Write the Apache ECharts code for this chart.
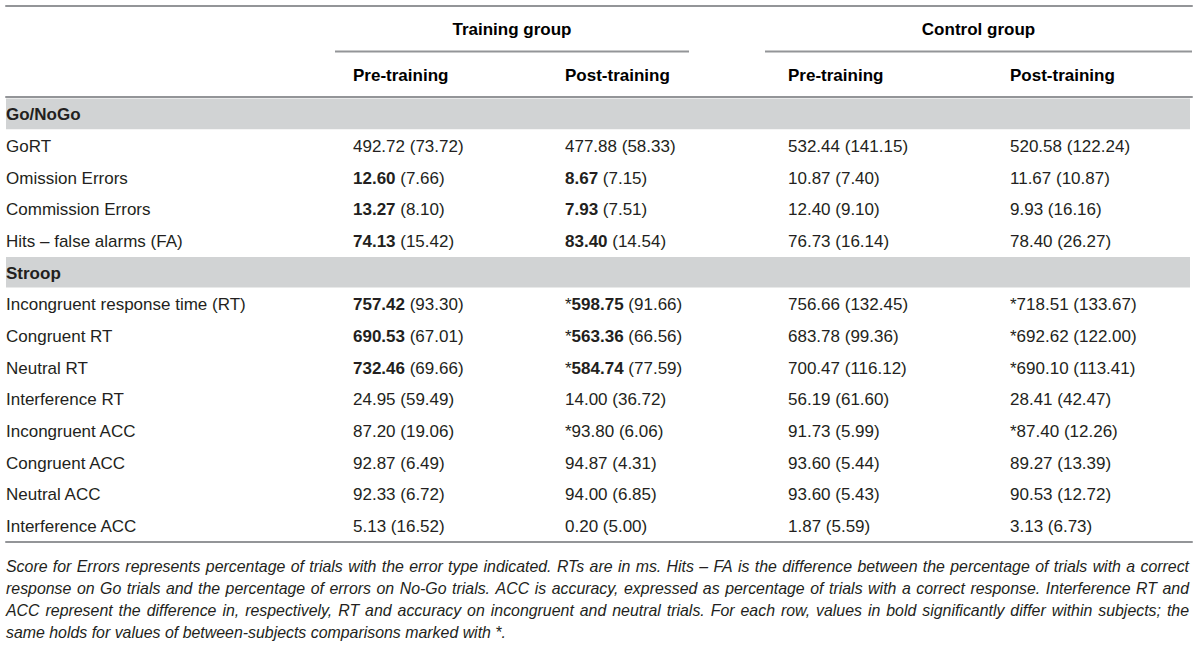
<!DOCTYPE html>
<html>
<head>
    <meta charset="utf-8">
    <title>Go/NoGo and Stroop results</title>
    <script src="https://cdn.jsdelivr.net/npm/echarts@6/dist/echarts.min.js"></script>
    <style type="text/css">
        html, body { margin: 0; padding: 0; background: #fff; }
        #main { width: 1200px; height: 651px; }
    </style>
</head>
<body>
<div id="main"></div>
<script>
    // ---- table data ----
    var sections = ['Go/NoGo', 'Stroop'];
    var sectionStart = [0, 4];          // section header goes before this row
    var rowLabels = ['GoRT', 'Omission Errors', 'Commission Errors', 'Hits \u2013 false alarms (FA)',
        'Incongruent response time (RT)', 'Congruent RT', 'Neutral RT', 'Interference RT',
        'Incongruent ACC', 'Congruent ACC', 'Neutral ACC', 'Interference ACC'];

    var groups = ['Training group', 'Control group'];
    var phases = ['Pre-training', 'Post-training', 'Pre-training', 'Post-training'];

    var trainPreMean  = [492.72, 12.60, 13.27, 74.13, 757.42, 690.53, 732.46, 24.95, 87.20, 92.87, 92.33, 5.13];
    var trainPreSD    = [73.72, 7.66, 8.10, 15.42, 93.30, 67.01, 69.66, 59.49, 19.06, 6.49, 6.72, 16.52];
    var trainPostMean = [477.88, 8.67, 7.93, 83.40, 598.75, 563.36, 584.74, 14.00, 93.80, 94.87, 94.00, 0.20];
    var trainPostSD   = [58.33, 7.15, 7.51, 14.54, 91.66, 66.56, 77.59, 36.72, 6.06, 4.31, 6.85, 5.00];
    var ctrlPreMean   = [532.44, 10.87, 12.40, 76.73, 756.66, 683.78, 700.47, 56.19, 91.73, 93.60, 93.60, 1.87];
    var ctrlPreSD     = [141.15, 7.40, 9.10, 16.14, 132.45, 99.36, 116.12, 61.60, 5.99, 5.44, 5.43, 5.59];
    var ctrlPostMean  = [520.58, 11.67, 9.93, 78.40, 718.51, 692.62, 690.10, 28.41, 87.40, 89.27, 90.53, 3.13];
    var ctrlPostSD    = [122.24, 10.87, 16.16, 26.27, 133.67, 122.00, 113.41, 42.47, 12.26, 13.39, 12.72, 6.73];

    // rows with bold means (within-subject difference), per column
    var boldRows = [[1, 2, 3, 4, 5, 6], [1, 2, 3, 4, 5, 6], [], []];
    // rows marked * (between-subject difference), per column
    var starRows = [[], [4, 5, 6, 8], [], [4, 5, 6, 8]];

    var footnote = [
        'Score for Errors represents percentage of trials with the error type indicated. RTs are in ms. Hits \u2013 FA is the difference between the percentage of trials with a correct',
        'response on Go trials and the percentage of errors on No-Go trials. ACC is accuracy, expressed as percentage of trials with a correct response. Interference RT and',
        'ACC represent the difference in, respectively, RT and accuracy on incongruent and neutral trials. For each row, values in bold significantly differ within subjects; the',
        'same holds for values of between-subjects comparisons marked with *.'
    ];

    // ---- layout ----
    var X0 = 6, X1 = 1192;
    var LABEL_X = 6;
    var NOTE_RIGHT = 1189;
    var colLeft = [353, 565, 788, 1010];
    var groupSpan = [[335, 689], [765, 1192]];
    var FONT = '"Liberation Sans", Arial, sans-serif';
    var NOTE_SIZE = 15.9;
    var TXT = '#231f20';
    var RULE = '#939598';
    var BAND = '#d1d3d4';

    var means = [trainPreMean, trainPostMean, ctrlPreMean, ctrlPostMean];
    var sds = [trainPreSD, trainPostSD, ctrlPreSD, ctrlPostSD];

    // body rows = section headers + data rows
    var bodyKeys = [];
    var bandIdx = [];
    var cells = [];
    rowLabels.forEach(function (lab, r) {
        var s = sectionStart.indexOf(r);
        if (s >= 0) {
            bandIdx.push(bodyKeys.length);
            cells.push({value: [-1, bodyKeys.length], text: '{h|' + sections[s] + '}'});
            bodyKeys.push(sections[s]);
        }
        var y = bodyKeys.length;
        bodyKeys.push(lab);
        cells.push({value: [-1, y], text: lab});
        for (var c = 0; c < 4; c++) {
            var m = means[c][r].toFixed(2);
            if (boldRows[c].indexOf(r) >= 0) m = '{b|' + m + '}';
            var t = (starRows[c].indexOf(r) >= 0 ? '*' : '') + m + ' (' + sds[c][r].toFixed(2) + ')';
            cells.push({value: [c, y], text: t});
        }
    });

    var rich = {
        b: {fontFamily: FONT, fontSize: 17, fontWeight: 'bold', color: TXT},
        h: {fontFamily: FONT, fontSize: 17, fontWeight: 'bold', color: '#000'}
    };

    // word widths for justified footnote lines
    var measureCtx = document.createElement('canvas').getContext('2d');
    measureCtx.font = 'italic ' + NOTE_SIZE + 'px ' + FONT;

    function hiddenY(grid, data) {
        return {type: 'category', gridIndex: grid, data: data, inverse: true, show: false};
    }
    function ruleX(grid, pos, showLine) {
        return {
            type: 'value', gridIndex: grid, min: X0, max: X1, position: pos,
            axisLine: {show: showLine, lineStyle: {color: RULE, width: 2}},
            axisTick: {show: false}, axisLabel: {show: false}, splitLine: {show: false}
        };
    }

    var chartDom = document.getElementById('main');
    var myChart = echarts.init(chartDom, null, {renderer: 'svg'});

    var option = {
        animation: false,
        grid: [
            {left: X0, width: X1 - X0, top: 98, height: 443.5, outerBoundsMode: 'none'},
            {left: X0, width: X1 - X0, top: 6, height: 91, outerBoundsMode: 'none'},
            {left: X0, width: X1 - X0, top: 555, height: 88, outerBoundsMode: 'none'}
        ],
        xAxis: [
            ruleX(0, 'bottom', true),
            ruleX(1, 'top', true),
            ruleX(1, 'bottom', true),
            ruleX(2, 'bottom', false)
        ],
        yAxis: [
            hiddenY(0, bodyKeys),
            hiddenY(1, ['group', 'phase']),
            hiddenY(2, footnote.map(function (f, i) { return 'l' + i; }))
        ],
        series: [
            {   // grey section bands
                type: 'custom', xAxisIndex: 0, yAxisIndex: 0,
                data: bandIdx.map(function (i) { return [0, i]; }),
                renderItem: function (params, api) {
                    var p0 = api.coord([X0, api.value(1)]);
                    var p1 = api.coord([1190, api.value(1)]);
                    var h = api.size([0, 1])[1];
                    return {type: 'rect', shape: {x: p0[0], y: p0[1] - h / 2 + 0.5, width: p1[0] - p0[0], height: h - 1},
                        style: {fill: BAND}};
                }
            },
            {   // body cells
                type: 'custom', xAxisIndex: 0, yAxisIndex: 0,
                data: cells,
                renderItem: function (params, api) {
                    var c = api.value(0);
                    var p = api.coord([c < 0 ? LABEL_X : colLeft[c], api.value(1)]);
                    return {type: 'text', x: p[0], y: p[1] + 1,
                        style: {text: cells[params.dataIndex].text, fontFamily: FONT, fontSize: 17,
                            fill: TXT, verticalAlign: 'middle', align: 'left', rich: rich}};
                }
            },
            {   // group headers with underline
                type: 'custom', xAxisIndex: 1, yAxisIndex: 1,
                data: groups.map(function (g, i) { return [i, 0]; }),
                renderItem: function (params, api) {
                    var sp = groupSpan[api.value(0)];
                    var a = api.coord([sp[0], 0]);
                    var b = api.coord([sp[1], 0]);
                    var h = api.size([0, 1])[1];
                    var yl = a[1] + h / 2;
                    return {type: 'group', children: [
                        {type: 'text', x: (a[0] + b[0]) / 2, y: a[1] + 1,
                            style: {text: groups[api.value(0)], fontFamily: FONT, fontSize: 17, fontWeight: 'bold',
                                fill: '#000', align: 'center', verticalAlign: 'middle'}},
                        {type: 'line', shape: {x1: a[0], y1: yl, x2: b[0], y2: yl},
                            style: {stroke: RULE, lineWidth: 2}}
                    ]};
                }
            },
            {   // phase headers
                type: 'custom', xAxisIndex: 1, yAxisIndex: 1,
                data: phases.map(function (p, i) { return [i, 1]; }),
                renderItem: function (params, api) {
                    var p = api.coord([colLeft[api.value(0)], 1]);
                    return {type: 'text', x: p[0], y: p[1] + 1,
                        style: {text: phases[api.value(0)], fontFamily: FONT, fontSize: 17, fontWeight: 'bold',
                            fill: '#000', align: 'left', verticalAlign: 'middle'}};
                }
            },
            {   // footnote lines, justified except the last one
                type: 'custom', xAxisIndex: 3, yAxisIndex: 2,
                data: footnote.map(function (f, i) { return [0, i]; }),
                renderItem: function (params, api) {
                    var i = params.dataIndex;
                    var p = api.coord([LABEL_X, api.value(1)]);
                    var words = footnote[i].split(' ');
                    var widths = words.map(function (w) { return measureCtx.measureText(w).width; });
                    var total = widths.reduce(function (s, w) { return s + w; }, 0);
                    var gap = measureCtx.measureText(' ').width;
                    if (i < footnote.length - 1) gap = (NOTE_RIGHT - LABEL_X - total) / (words.length - 1);
                    var x = p[0];
                    var kids = words.map(function (w, k) {
                        var el = {type: 'text', x: x, y: p[1],
                            style: {text: w, fontFamily: FONT, fontSize: NOTE_SIZE, fontStyle: 'italic',
                                fill: TXT, align: 'left', verticalAlign: 'middle'}};
                        x += widths[k] + gap;
                        return el;
                    });
                    return {type: 'group', children: kids};
                }
            }
        ]
    };
    option && myChart.setOption(option);
</script>
</body>
</html>
